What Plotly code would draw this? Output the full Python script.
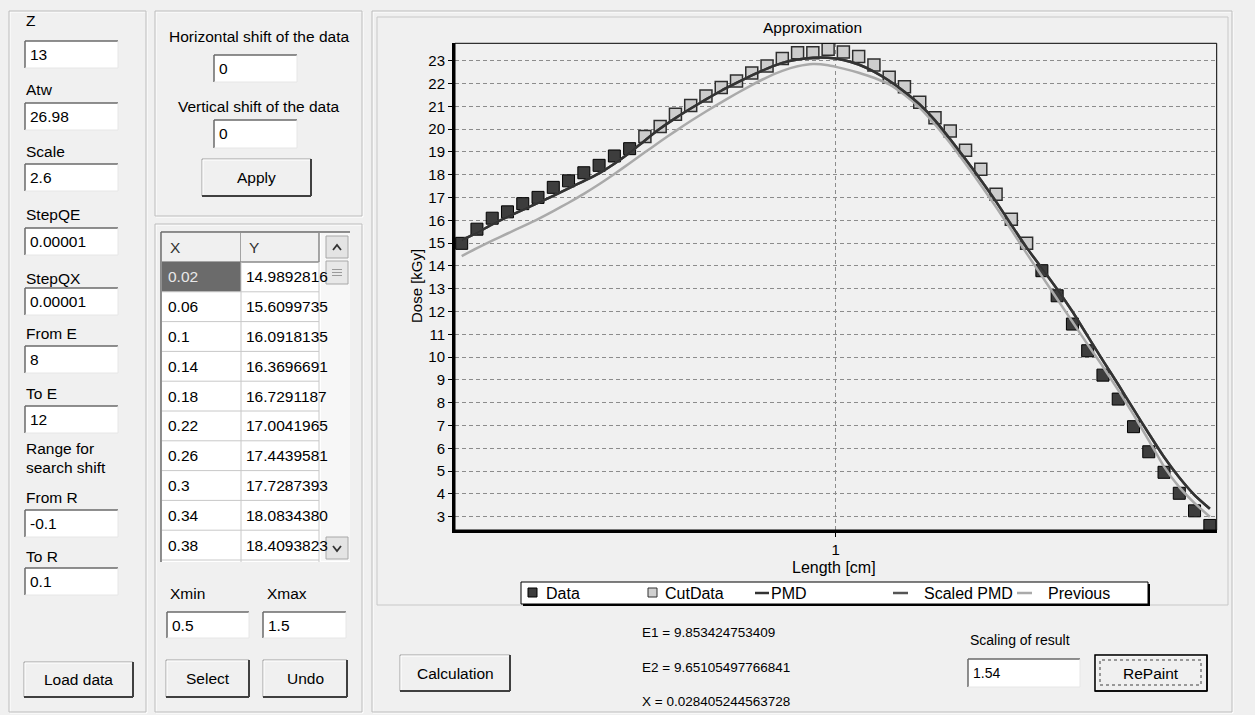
import plotly.graph_objects as go

W, H = 1255, 715
FONT = "Liberation Sans, Arial, sans-serif"
GUI_SIZE = 15.5

# ---------------- chart data ----------------
data_x = [0.02, 0.06, 0.10, 0.14, 0.18, 0.22, 0.26, 0.30, 0.34, 0.38, 0.42, 0.46,
          1.54, 1.58, 1.62, 1.66, 1.70, 1.74, 1.78, 1.82, 1.86, 1.90, 1.94, 1.98]
data_y = [14.9892816, 15.6099735, 16.0918135, 16.3696691, 16.7291187, 17.0041965,
          17.4439581, 17.7287393, 18.0834380, 18.4093823, 18.82, 19.14,
          13.79, 12.69, 11.45, 10.28, 9.21, 8.16, 6.95, 5.85, 4.95, 4.03, 3.26, 2.62]

cut_x = [0.50, 0.54, 0.58, 0.62, 0.66, 0.70, 0.74, 0.78, 0.82, 0.86, 0.90, 0.94, 0.98,
         1.02, 1.06, 1.10, 1.14, 1.18, 1.22, 1.26, 1.30, 1.34, 1.38, 1.42, 1.46, 1.50]
cut_y = [19.67, 20.11, 20.65, 21.03, 21.45, 21.82, 22.11, 22.46, 22.77, 23.09, 23.35, 23.35, 23.50,
         23.38, 23.18, 22.81, 22.27, 21.86, 21.17, 20.50, 19.92, 19.07, 18.24, 17.14, 16.04, 14.99]

curve_x = [0.02, 0.06, 0.10, 0.14, 0.18, 0.22, 0.26, 0.30, 0.34, 0.38, 0.42, 0.46, 0.50,
           0.54, 0.58, 0.62, 0.66, 0.70, 0.74, 0.78, 0.82, 0.86, 0.90, 0.94, 0.98,
           1.02, 1.06, 1.10, 1.14, 1.18, 1.22, 1.26, 1.30, 1.34, 1.38, 1.42, 1.46, 1.50,
           1.54, 1.58, 1.62, 1.66, 1.70, 1.74, 1.78, 1.82, 1.86, 1.90, 1.94, 1.98]
pmd_y = [15.13, 15.45, 15.82, 16.15, 16.46, 16.76, 17.07, 17.40, 17.72, 18.06, 18.48, 18.96, 19.50,
         20.02, 20.48, 20.90, 21.30, 21.68, 22.02, 22.35, 22.65, 22.90, 23.05, 23.13, 23.13,
         23.03, 22.83, 22.52, 22.12, 21.64, 21.08, 20.38, 19.55, 18.68, 17.77, 16.82, 15.80, 14.80,
         13.90, 12.98, 12.00, 10.92, 9.85, 8.80, 7.72, 6.65, 5.62, 4.72, 3.95, 3.35]
previous_y = [14.43, 14.78, 15.11, 15.42, 15.73, 16.05, 16.40, 16.77, 17.16, 17.58, 18.03, 18.50, 18.98,
              19.45, 19.91, 20.35, 20.77, 21.17, 21.56, 21.93, 22.27, 22.55, 22.75, 22.85, 22.80,
              22.65, 22.47, 22.25, 21.96, 21.50, 20.93, 20.20, 19.38, 18.48, 17.55, 16.58, 15.58, 14.55,
              13.55, 12.55, 11.55, 10.55, 9.58, 8.55, 7.48, 6.35, 5.20, 4.30, 3.60, 3.00]

y_ticks = [3, 4, 5, 6, 7, 8, 9, 10, 11, 12, 13, 14, 15, 16, 17, 18, 19, 20, 21, 22, 23]
x_ticks = [1]

# ---------------- GUI text data ----------------
left_fields = [("Z", "13"), ("Atw", "26.98"), ("Scale", "2.6"), ("StepQE", "0.00001"),
               ("StepQX", "0.00001"), ("From E", "8"), ("To E", "12"),
               ("From R", "-0.1"), ("To R", "0.1")]
table_x = ["0.02", "0.06", "0.1", "0.14", "0.18", "0.22", "0.26", "0.3", "0.34", "0.38"]
table_y = ["14.9892816", "15.6099735", "16.0918135", "16.3696691", "16.7291187",
           "17.0041965", "17.4439581", "17.7287393", "18.0834380", "18.4093823"]
results = ["E1 = 9.853424753409", "E2 = 9.65105497766841", "X = 0.028405244563728"]

shapes = []
annotations = []


def px(x):
    return x / W


def py(y):
    return 1 - y / H


def rect(x0, y0, x1, y1, fill="rgba(0,0,0,0)", line=None, lw=1, layer="below", dash=None):
    ln = dict(color=line if line else "rgba(0,0,0,0)", width=lw if line else 0)
    if dash:
        ln["dash"] = dash
    shapes.append(dict(type="rect", xref="paper", yref="paper", x0=px(x0), x1=px(x1),
                       y0=py(y1), y1=py(y0), fillcolor=fill, line=ln, layer=layer))


def seg(x0, y0, x1, y1, color, lw=1, layer="below"):
    shapes.append(dict(type="line", xref="paper", yref="paper", x0=px(x0), x1=px(x1),
                       y0=py(y0), y1=py(y1), line=dict(color=color, width=lw), layer=layer))


def path(points, color, lw=1.5):
    d = "M " + " L ".join(f"{px(a):.5f},{py(b):.5f}" for a, b in points)
    shapes.append(dict(type="path", xref="paper", yref="paper", path=d,
                       line=dict(color=color, width=lw), layer="above"))


def text(x, y, s, size=GUI_SIZE, anchor="left", color="black", angle=0):
    annotations.append(dict(xref="paper", yref="paper", x=px(x), y=py(y), text=s,
                            showarrow=False, xanchor=anchor, yanchor="middle",
                            textangle=angle, font=dict(family=FONT, size=size, color=color)))


def groupbox(x0, y0, x1, y1):
    rect(x0 + 1, y0 + 1, x1 + 1, y1 + 1, line="#ffffff", lw=1)
    rect(x0, y0, x1, y1, line="#bdbdbd", lw=1)


def textbox(x0, y0, x1, y1, val, size=GUI_SIZE):
    rect(x0, y0, x1, y1, fill="#ffffff")
    seg(x0, y0, x1, y0, "#6a6a6a", 1.5)
    seg(x0, y0, x0, y1, "#6a6a6a", 1.5)
    seg(x0, y1, x1, y1, "#e6e6e6", 1)
    seg(x1, y0, x1, y1, "#e6e6e6", 1)
    text(x0 + 3, (y0 + y1) / 2, val, size=size)


def button(x0, y0, x1, y1, label, focus=False):
    rect(x0, y0, x1, y1, fill="#f0f0f0", line="#a0a0a0", lw=1)
    seg(x0 + 1, y0 + 1, x1 - 1, y0 + 1, "#ffffff", 1)
    seg(x0 + 1, y0 + 1, x0 + 1, y1 - 1, "#ffffff", 1)
    seg(x0, y1, x1, y1, "#404040", 2)
    seg(x1, y0, x1, y1, "#404040", 2)
    if focus:
        rect(x0, y0, x1, y1, line="#000000", lw=1.5)
        rect(x0 + 5, y0 + 5, x1 - 6, y1 - 6, line="#404040", lw=1, dash="dot")
    text((x0 + x1) / 2, (y0 + y1) / 2, label, anchor="center")


# ---------------- panels ----------------
groupbox(9, 11, 146, 712)
groupbox(155, 11, 362, 216)
groupbox(155, 224, 362, 712)
groupbox(372, 11, 1232, 712)
rect(377, 17, 1228, 605, line="#c8c8c8", lw=1)

# left panel fields
label_y = [20, 90, 152, 215, 278, 333, 393, 497, 556]
box_y = [41, 103, 164, 228, 288, 346, 406, 510, 568]
for (lab, val), ly, by in zip(left_fields, label_y, box_y):
    text(24, ly, lab)
    textbox(25, by, 118, by + 27, val)
text(24, 448, "Range for")
text(24, 467, "search shift")
button(24, 662, 133, 697, "Load data")

# middle-top panel
text(259, 37, "Horizontal shift of the data", anchor="center")
textbox(214, 55, 297, 82, "0")
text(259, 107, "Vertical shift of the data", anchor="center")
textbox(214, 120, 297, 148, "0")
button(202, 159, 311, 196, "Apply")

# table
rect(161, 232, 350, 562, fill="#ffffff")
seg(161, 232, 350, 232, "#6a6a6a", 1.5)
seg(161, 232, 161, 562, "#6a6a6a", 1.5)
for cx0, cx1, lab in [(162, 241, "X"), (241, 319, "Y")]:
    rect(cx0, 233, cx1, 262, fill="#f0f0f0")
    seg(cx0, 262, cx1, 262, "#8a8a8a", 1.5)
    seg(cx1, 233, cx1, 262, "#8a8a8a", 1.5)
    text(cx0 + 6, 247, lab, color="#333333")
row_h = 29.8
for i, (tx, ty) in enumerate(zip(table_x, table_y)):
    r0 = 262 + i * row_h
    r1 = r0 + row_h
    if i == 0:
        rect(162, r0, 241, r1, fill="#6b6b6b")
        text(166, (r0 + r1) / 2, tx, color="#e8e8e8")
    else:
        text(166, (r0 + r1) / 2, tx)
    text(244, (r0 + r1) / 2, ty)
    seg(162, r1, 319, r1, "#c8c8c8", 1)
seg(241, 262, 241, 562, "#c8c8c8", 1)
seg(319, 262, 319, 562, "#c8c8c8", 1)
# scrollbar
rect(321, 233, 350, 561, fill="#f7f7f7")
rect(326, 236, 348, 258, fill="#e4e4e4", line="#a8a8a8", lw=1)
path([(333, 250), (337, 245), (341, 250)], "#333333", 1.8)
rect(326, 261, 348, 284, fill="#e8e8e8", line="#a8a8a8", lw=1)
for k in (-3, 0, 3):
    seg(332, 272.5 + k, 342, 272.5 + k, "#9a9a9a", 1, layer="above")
rect(326, 537, 348, 559, fill="#e4e4e4", line="#a8a8a8", lw=1)
path([(333, 546), (337, 551), (341, 546)], "#333333", 1.8)

text(168, 593, "Xmin")
text(265, 593, "Xmax")
textbox(167, 612, 249, 638, "0.5")
textbox(263, 612, 346, 638, "1.5")
button(166, 660, 249, 697, "Select")
button(263, 660, 347, 697, "Undo")

# bottom of right panel
button(400, 655, 510, 691, "Calculation")
for s, yy in zip(results, [632, 667, 701]):
    text(640, yy, s, size=13.5)
text(968, 640, "Scaling of result", size=14)
textbox(968, 659, 1080, 687, "1.54", size=14)
button(1095, 655, 1207, 691, "RePaint", focus=True)

# chart texts
text(812, 28, "Approximation", anchor="center", size=15.5)
text(834, 567, "Length [cm]", anchor="center", size=16)
text(416, 286, "Dose [kGy]", anchor="center", size=15, angle=-90)

# manual legend
LEG = 16
rect(523, 584, 1150, 606, fill="#000000")
rect(521, 582, 1148, 604, fill="#ffffff", line="#000000", lw=1)
leg_y = 593
rect(528, 588, 537, 597, fill="#3d3d3d", line="#000000", lw=1, layer="above")
text(544, leg_y, "Data", size=LEG)
rect(648, 588, 657, 597, fill="#d0d0d0", line="#333333", lw=1, layer="above")
text(663, leg_y, "CutData", size=LEG)
seg(755, leg_y, 769, leg_y, "#333333", 2.5, layer="above")
text(769, leg_y, "PMD", size=LEG)
seg(893, leg_y, 908, leg_y, "#555555", 2.5, layer="above")
text(922, leg_y, "Scaled PMD", size=LEG)
seg(1017, leg_y, 1032, leg_y, "#aaaaaa", 2.5, layer="above")
text(1046, leg_y, "Previous", size=LEG)

# plot frame top / right (thin)
shapes.append(dict(type="rect", xref="x domain", yref="y domain", x0=0, x1=1, y0=0, y1=1,
                   line=dict(color="#000000", width=1), layer="above"))

# ---------------- traces ----------------
fig = go.Figure()
fig.add_trace(go.Scatter(x=data_x, y=data_y, mode="markers", name="Data",
                         marker=dict(symbol="square", size=12, color="#3d3d3d",
                                     line=dict(color="#000000", width=1))))
fig.add_trace(go.Scatter(x=cut_x, y=cut_y, mode="markers", name="CutData",
                         marker=dict(symbol="square", size=12, color="#cdcdcd",
                                     line=dict(color="#2e2e2e", width=1.5))))
fig.add_trace(go.Scatter(x=curve_x, y=previous_y, mode="lines", name="Previous",
                         line=dict(color="#aaaaaa", width=2.5, shape="spline", smoothing=0.6)))
fig.add_trace(go.Scatter(x=curve_x, y=pmd_y, mode="lines", name="Scaled PMD",
                         line=dict(color="#555555", width=2.5, shape="spline", smoothing=0.6)))
fig.add_trace(go.Scatter(x=curve_x, y=pmd_y, mode="lines", name="PMD",
                         line=dict(color="#333333", width=2.5, shape="spline", smoothing=0.6)))

x_dom = [455 / W, 1216.7 / W]
y_dom = [1 - 530 / H, 1 - 43.3 / H]

fig.update_layout(
    width=W, height=H,
    margin=dict(l=0, r=0, t=0, b=0),
    paper_bgcolor="#f0f0f0",
    plot_bgcolor="#f0f0f0",
    showlegend=False,
    font=dict(family=FONT, size=15, color="#000000"),
    shapes=shapes,
    annotations=annotations,
    xaxis=dict(domain=x_dom, range=[0.0025, 1.998], tickvals=x_ticks, ticktext=[str(v) for v in x_ticks],
               showgrid=True, gridcolor="#8c8c8c", griddash="4px,3px", gridwidth=1,
               showline=True, linecolor="#000000", linewidth=3, ticks="outside", ticklen=4,
               tickcolor="#000000", zeroline=False, tickfont=dict(size=15), fixedrange=True),
    yaxis=dict(domain=y_dom, range=[2.42, 23.76], tickvals=y_ticks,
               showgrid=True, gridcolor="#8c8c8c", griddash="4px,3px", gridwidth=1,
               showline=True, linecolor="#000000", linewidth=3, ticks="outside", ticklen=4,
               tickcolor="#000000", zeroline=False, tickfont=dict(size=15), fixedrange=True),
)

fig.write_html("out.html", config={"displayModeBar": False, "staticPlot": True},
               post_script="document.body.style.margin='0';document.body.style.overflow='hidden';")
